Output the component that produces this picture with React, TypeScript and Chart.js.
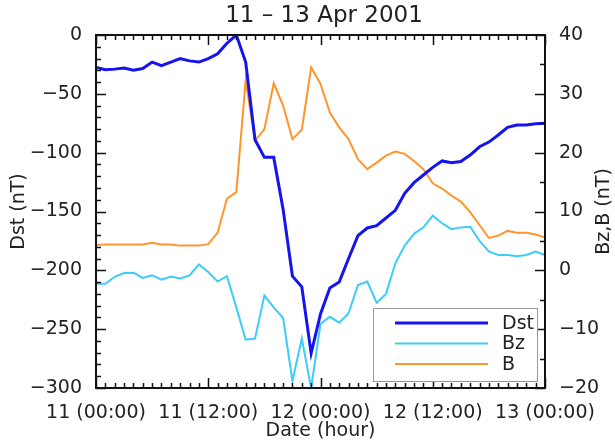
import { useEffect, useRef } from 'react';
import { Chart, registerables } from 'chart.js';

Chart.register(...registerables);

const chartTitle = '11 – 13 Apr 2001';
const xAxisTitle = 'Date (hour)';
const leftAxisTitle = 'Dst (nT)';
const rightAxisTitle = 'Bz,B (nT)';

const hours = [
  0, 1, 2, 3, 4, 5, 6, 7, 8, 9, 10, 11, 12, 13, 14, 15, 16, 17, 18, 19, 20, 21, 22, 23, 24,
  25, 26, 27, 28, 29, 30, 31, 32, 33, 34, 35, 36, 37, 38, 39, 40, 41, 42, 43, 44, 45, 46, 47, 48,
];
const xTickLabels = ['11 (00:00)', '11 (12:00)', '12 (00:00)', '12 (12:00)', '13 (00:00)'];

const dst = [
  -27.5, -29.5, -29, -28, -30, -28.5, -23, -26, -23, -20, -22, -23, -20, -16, -7, 0,
  -23, -89, -104, -104, -148, -205, -214, -270.5, -237, -215, -210, -190, -170.5, -164,
  -162, -155.5, -149, -134.5, -125.5, -119, -112.5, -107, -108.5, -107.5, -102, -95, -91,
  -85, -78.5, -76.5, -76.5, -75.5, -75,
];
const bz = [
  -2.3, -2.3, -1.1, -0.45, -0.4, -1.3, -0.85, -1.6, -1.05, -1.4, -0.85, 1.0, -0.3, -1.9,
  -1.0, -6.3, -11.8, -11.6, -4.3, -6.3, -8.1, -18.8, -11.6, -20, -9.1, -7.9, -8.9, -7.3,
  -2.5, -1.9, -5.5, -4.0, 1.2, 4.2, 6.2, 7.3, 9.3, 8.0, 7.0, 7.3, 7.4, 5.0, 3.2, 2.6, 2.6,
  2.4, 2.6, 3.2, 2.6,
];
const bTotal = [
  4.3, 4.4, 4.4, 4.4, 4.4, 4.4, 4.7, 4.4, 4.4, 4.2, 4.2, 4.2, 4.45, 6.4, 12.2, 13.3, 32.3,
  22, 24, 31.8, 28, 22.3, 23.9, 34.5, 31.7, 26.8, 24.3, 22.3, 18.9, 17.2, 18.3, 19.5, 20.2,
  19.8, 18.6, 17.2, 14.8, 13.9, 12.7, 11.7, 9.9, 7.7, 5.5, 5.9, 6.7, 6.4, 6.4, 6.1, 5.6,
];

const FONT = "'DejaVu Sans', sans-serif";
const TEXT = '#222';

const framePlugin = {
  id: 'idlFrame',
  afterDraw(chart: any) {
    const { ctx, chartArea: a, scales } = chart;
    const x = scales.x;
    const yl = scales.y;
    const yr = scales.y1;
    ctx.save();
    ctx.strokeStyle = '#111';
    ctx.lineWidth = 1.5;
    ctx.beginPath();
    for (let i = 0; i < hours.length; i++) {
      const px = Math.round(x.getPixelForTick(i)) + 0.5;
      const len = i % 12 === 0 ? 10 : 5;
      ctx.moveTo(px, a.bottom);
      ctx.lineTo(px, a.bottom - len);
      ctx.moveTo(px, a.top);
      ctx.lineTo(px, a.top + len);
    }
    for (let v = yl.min; v <= yl.max; v += 10) {
      const py = Math.round(yl.getPixelForValue(v)) + 0.5;
      const len = v % 50 === 0 ? 10 : 5;
      ctx.moveTo(a.left, py);
      ctx.lineTo(a.left + len, py);
    }
    for (let v = yr.min; v <= yr.max; v += 5) {
      const py = Math.round(yr.getPixelForValue(v)) + 0.5;
      const len = v % 10 === 0 ? 10 : 5;
      ctx.moveTo(a.right, py);
      ctx.lineTo(a.right - len, py);
    }
    ctx.stroke();
    ctx.lineWidth = 2;
    ctx.strokeRect(a.left, a.top, a.right - a.left, a.bottom - a.top);

    const bx0 = 373, by0 = 308, bw = 164, bh = 73;
    ctx.fillStyle = '#fff';
    ctx.fillRect(bx0, by0, bw, bh);
    ctx.lineWidth = 1;
    ctx.strokeStyle = '#999';
    ctx.strokeRect(bx0 + 0.5, by0 + 0.5, bw, bh);
    const rows = [323, 343.5, 364];
    chart.data.datasets.forEach((ds: any, i: number) => {
      ctx.beginPath();
      ctx.strokeStyle = ds.borderColor;
      ctx.lineWidth = ds.borderWidth;
      ctx.moveTo(395, rows[i]);
      ctx.lineTo(488, rows[i]);
      ctx.stroke();
      ctx.fillStyle = TEXT;
      ctx.font = `19px ${FONT}`;
      ctx.textAlign = 'left';
      ctx.textBaseline = 'middle';
      ctx.fillText(ds.label, 502, rows[i] + 1);
    });

    ctx.fillStyle = TEXT;
    ctx.textAlign = 'center';
    ctx.textBaseline = 'middle';
    ctx.font = `23px ${FONT}`;
    ctx.fillText(chartTitle, 324, 16);
    ctx.font = `19px ${FONT}`;
    ctx.fillText(xAxisTitle, (a.left + a.right) / 2, 431);
    const cy = (a.top + a.bottom) / 2;
    ctx.save();
    ctx.translate(19, cy);
    ctx.rotate(-Math.PI / 2);
    ctx.fillText(leftAxisTitle, 0, 0);
    ctx.restore();
    ctx.save();
    ctx.translate(604, cy);
    ctx.rotate(-Math.PI / 2);
    ctx.fillText(rightAxisTitle, 0, 0);
    ctx.restore();
    ctx.restore();
  },
};

const minus = (v: number) => (v < 0 ? '−' + Math.abs(v) : String(v));

export default function App() {
  const ref = useRef<HTMLCanvasElement>(null);
  useEffect(() => {
    document.body.style.margin = '0';
    const canvas = ref.current;
    if (!canvas) return;
    const chart = new Chart(canvas, {
      type: 'line',
      data: {
        labels: hours.map(String),
        datasets: [
          { label: 'Dst', data: dst, yAxisID: 'y', borderColor: 'rgb(20,20,240)', borderWidth: 3, pointRadius: 0, tension: 0 },
          { label: 'Bz', data: bz, yAxisID: 'y1', borderColor: 'rgb(60,205,250)', borderWidth: 2, pointRadius: 0, tension: 0 },
          { label: 'B', data: bTotal, yAxisID: 'y1', borderColor: 'rgb(255,150,45)', borderWidth: 2, pointRadius: 0, tension: 0 },
        ],
      },
      options: {
        responsive: false,
        animation: false,
        layout: { padding: { top: 35, left: 0, right: 0, bottom: 0 } },
        plugins: { legend: { display: false }, title: { display: false }, tooltip: { enabled: false } },
        scales: {
          x: {
            type: 'category',
            offset: false,
            grid: { display: false },
            border: { display: false },
            ticks: {
              autoSkip: false,
              maxRotation: 0,
              padding: 6,
              color: TEXT,
              font: { family: FONT, size: 19 },
              callback: (_v: any, i: number) => (i % 12 === 0 ? xTickLabels[i / 12] : ''),
            },
            afterFit: (s: any) => { s.height = 56; },
          },
          y: {
            position: 'left',
            min: -300,
            max: 0,
            grid: { display: false },
            border: { display: false },
            ticks: { stepSize: 50, padding: 6, color: TEXT, font: { family: FONT, size: 19 }, callback: (v: any) => minus(Number(v)) },
            afterFit: (s: any) => { s.width = 96; },
          },
          y1: {
            position: 'right',
            min: -20,
            max: 40,
            grid: { display: false },
            border: { display: false },
            ticks: { stepSize: 10, padding: 6, color: TEXT, font: { family: FONT, size: 19 }, callback: (v: any) => minus(Number(v)) },
            afterFit: (s: any) => { s.width = 70; },
          },
        },
      },
      plugins: [framePlugin],
    });
    return () => chart.destroy();
  }, []);
  return (
    <div style={{ width: 615, height: 444, background: '#fff' }}>
      <canvas ref={ref} width={615} height={444} />
    </div>
  );
}
